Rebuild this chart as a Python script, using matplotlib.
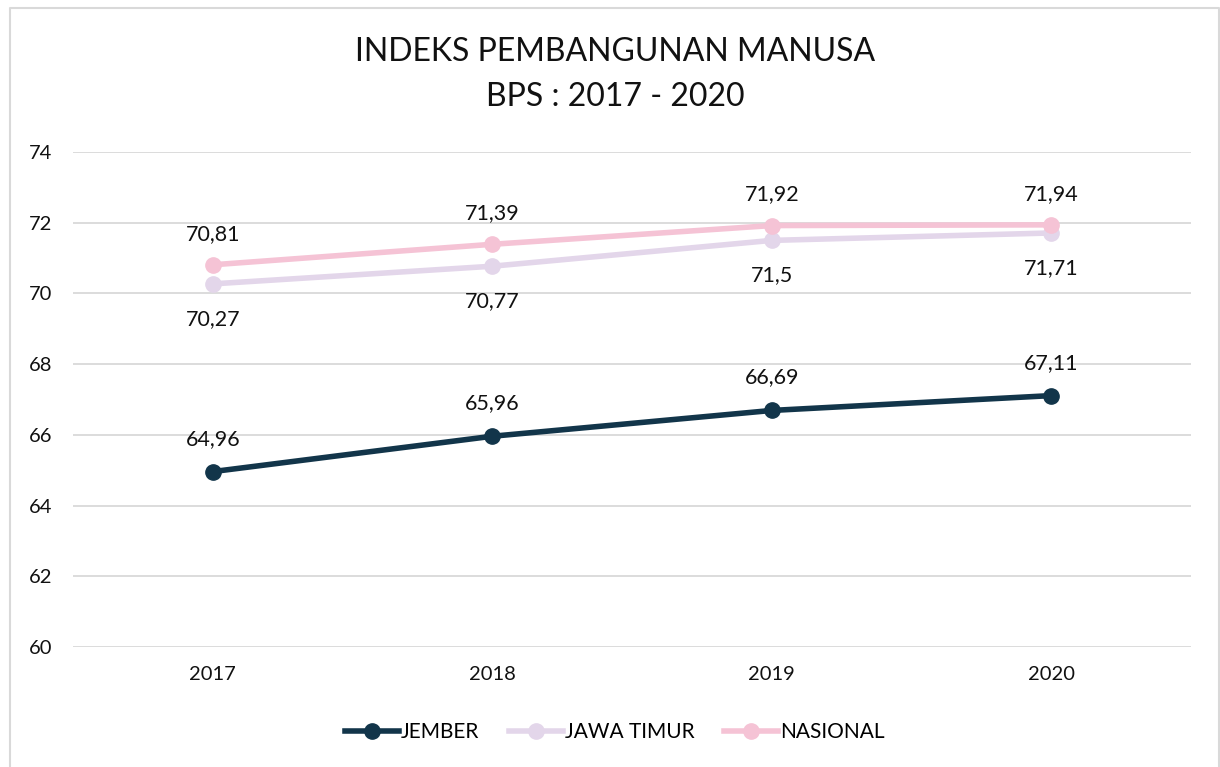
import matplotlib.pyplot as plt
from matplotlib.lines import Line2D

plt.rcParams['font.family'] = ['Lato', 'DejaVu Sans']

# data BPS
tahun = ['2017', '2018', '2019', '2020']
jember = [64.96, 65.96, 66.69, 67.11]
jatim = [70.27, 70.77, 71.5, 71.71]
nasional = [70.81, 71.39, 71.92, 71.94]

c_jember = '#12354a'
c_jatim = '#e3d6ea'
c_nas = '#f5c3d5'

fig = plt.figure(figsize=(12.2, 7.67), dpi=100)
ax = fig.add_axes([0.0598, 0.1565, 0.9164, 0.6453])

x = list(range(len(tahun)))
ax.plot(x, jember, color=c_jember, lw=4, marker='o', ms=11, label='JEMBER', zorder=4)
ax.plot(x, jatim, color=c_jatim, lw=4, marker='o', ms=11, label='JAWA TIMUR', zorder=3)
ax.plot(x, nasional, color=c_nas, lw=4, marker='o', ms=11, label='NASIONAL', zorder=3)

def fmt(v):
    return ('%g' % v).replace('.', ',')

for i in x:
    ax.annotate(fmt(jember[i]), (i, jember[i]), xytext=(0, 33), textcoords='offset pixels',
                ha='center', va='center', fontsize=15.5, color='#111111')
    ax.annotate(fmt(nasional[i]), (i, nasional[i]), xytext=(0, 31), textcoords='offset pixels',
                ha='center', va='center', fontsize=15.5, color='#111111')
    ax.annotate(fmt(jatim[i]), (i, jatim[i]), xytext=(0, -35), textcoords='offset pixels',
                ha='center', va='center', fontsize=15.5, color='#111111')

ax.set_xlim(-0.5, 3.5)
ax.set_ylim(60, 74)
ax.set_yticks(range(60, 75, 2))
ax.set_xticks(x)
ax.set_xticklabels(tahun)
ax.tick_params(length=0, labelsize=14.5, colors='#111111')
ax.tick_params(axis='x', pad=14)
ax.tick_params(axis='y', pad=15)
ax.grid(axis='y', color='#d9d9d9', lw=1.3)
ax.set_axisbelow(True)
for s in ax.spines.values():
    s.set_visible(False)

fig.text(0.504, 0.932, 'INDEKS PEMBANGUNAN MANUSA', ha='center', va='center', fontsize=23, color='#111111')
fig.text(0.504, 0.874, 'BPS : 2017 - 2020', ha='center', va='center', fontsize=23, color='#111111')

fig.legend(loc='center', bbox_to_anchor=(0.504, 0.045), ncol=3, frameon=False, fontsize=15,
           handlelength=2.6, handletextpad=0.1, columnspacing=1.4)

# bingkai
bx0, bx1, by1 = 9.5 / 1220, 1218.5 / 1220, 1 - 7.5 / 767
fig.lines.append(Line2D([bx0, bx0, bx1, bx1], [0, by1, by1, 0], transform=fig.transFigure,
                        color='#d9d9d9', lw=1.5))

fig.savefig('out.png', dpi=100)
